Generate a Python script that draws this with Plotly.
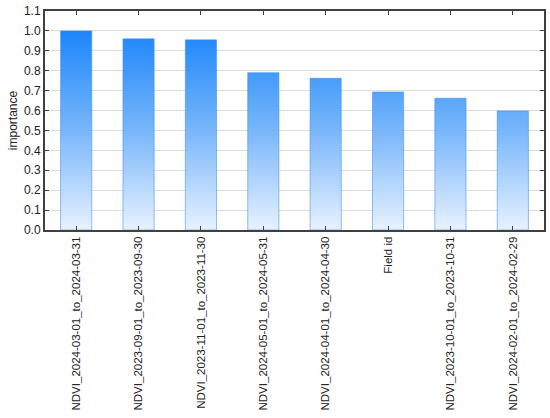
import plotly.graph_objects as go

categories = [
    "NDVI_2024-03-01_to_2024-03-31",
    "NDVI_2023-09-01_to_2023-09-30",
    "NDVI_2023-11-01_to_2023-11-30",
    "NDVI_2024-05-01_to_2024-05-31",
    "NDVI_2024-04-01_to_2024-04-30",
    "Field id",
    "NDVI_2023-10-01_to_2023-10-31",
    "NDVI_2024-02-01_to_2024-02-29",
]
importance = [1.0, 0.96, 0.955, 0.79, 0.762, 0.693, 0.662, 0.598]
y_ticks = [round(0.1 * i, 1) for i in range(12)]

half_width = 0.25
grad = [[0.0, "#e8f2ff"], [0.5, "#78b6fb"], [1.0, "#1c86fb"]]

fig = go.Figure()
for i, v in enumerate(importance):
    fig.add_trace(go.Scatter(
        x=[i - half_width, i - half_width, i + half_width, i + half_width, i - half_width],
        y=[0, v, v, 0, 0],
        mode="lines",
        fill="toself",
        fillgradient=dict(type="vertical", colorscale=grad, start=0, stop=1.0),
        line=dict(color="rgba(60,140,240,0.55)", width=1),
        showlegend=False,
        hoverinfo="skip",
    ))

fig.update_layout(
    width=550, height=418,
    margin=dict(l=45, r=6, t=11, b=188),
    paper_bgcolor="white", plot_bgcolor="white",
    font=dict(family="Liberation Sans, Arial, sans-serif", size=12, color="#222"),
    showlegend=False,
)
fig.update_xaxes(
    range=[-0.5, len(categories) - 0.5],
    tickmode="array", tickvals=list(range(len(categories))), ticktext=categories,
    tickangle=-90, tickfont=dict(size=11.5), ticks="inside", ticklen=4, tickcolor="#404040",
    showline=True, linecolor="#404040", linewidth=2, mirror="ticks",
    showgrid=False, zeroline=False, automargin=False,
)
fig.update_yaxes(
    range=[0, 1.1], tickmode="array", tickvals=y_ticks,
    ticktext=[f"{t:.1f}" for t in y_ticks],
    ticks="inside", ticklen=4, tickcolor="#404040",
    showline=True, linecolor="#404040", linewidth=2, mirror="ticks",
    showgrid=True, gridcolor="#dcdcdc", gridwidth=1, zeroline=False,
    automargin=False,
    title=dict(text="importance", standoff=4, font=dict(size=12)),
)
fig.write_html(
    "out.html",
    config={"displayModeBar": False},
    post_script="document.body.style.margin='0';",
)
